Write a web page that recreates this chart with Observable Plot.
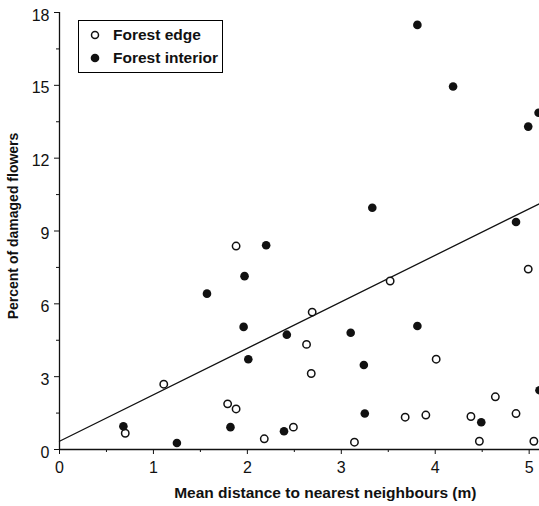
<!DOCTYPE html>
<html>
<head>
<meta charset="utf-8">
<script src="https://cdn.jsdelivr.net/npm/d3@7"></script>
<script src="https://cdn.jsdelivr.net/npm/@observablehq/plot@0.6"></script>
<style>
  html, body { margin: 0; padding: 0; background: #fff; }
  #wrap { position: relative; width: 539px; height: 506px; font-family: "Liberation Sans", Arial, sans-serif; }
  #legend { position: absolute; left: 78px; top: 20px; width: 143px; height: 51px; border: 1px solid #000; background: #fff; }
  .row { position: absolute; left: 0; height: 20px; display: flex; align-items: center; font-weight: bold; font-size: 15.5px; color: #111; }
  .row svg { margin-left: 10px; margin-right: 12px; }
</style>
</head>
<body>
<div id="wrap">
  <div id="chart"></div>
  <div id="legend">
    <div class="row" style="top:4px"><svg width="12" height="12"><circle cx="6" cy="6" r="3.5" fill="#fff" stroke="#111" stroke-width="1.5"/></svg>Forest edge</div>
    <div class="row" style="top:27px"><svg width="12" height="12"><circle cx="6" cy="6" r="4.3" fill="#111"/></svg>Forest interior</div>
  </div>
</div>
<script>
// Forest edge (open circles)
const edgeX = [0.70, 1.11, 1.79, 1.88, 1.88, 2.18, 2.49, 2.63, 2.68, 2.69, 3.14, 3.52, 3.68, 3.90, 4.01, 4.38, 4.47, 4.64, 4.86, 4.99, 5.05];
const edgeY = [0.67, 2.69, 1.88, 1.67, 8.38, 0.44, 0.92, 4.33, 3.13, 5.66, 0.30, 6.94, 1.33, 1.42, 3.72, 1.36, 0.34, 2.17, 1.48, 7.43, 0.34];
// Forest interior (filled circles)
const interiorX = [0.68, 1.25, 1.57, 1.82, 1.96, 1.97, 2.01, 2.20, 2.39, 2.42, 3.10, 3.24, 3.25, 3.33, 3.81, 3.81, 4.19, 4.49, 4.86, 4.99, 5.10, 5.11];
const interiorY = [0.96, 0.27, 6.42, 0.92, 5.05, 7.14, 3.72, 8.41, 0.75, 4.73, 4.81, 3.48, 1.48, 9.96, 5.09, 17.49, 14.95, 1.12, 9.37, 13.30, 13.87, 2.44];
// Fitted line
const lineIntercept = 0.34;
const lineSlope = 1.915;
const lineXs = [0, 5.11];
// Ticks
const xTicks = [0, 1, 2, 3, 4, 5];
const xMinor = [0.5, 1.5, 2.5, 3.5, 4.5];
const yTicks = [0, 3, 6, 9, 12, 15, 18];
const yMinor = [1.5, 4.5, 7.5, 10.5, 13.5, 16.5];
const xLabel = "Mean distance to nearest neighbours (m)";
const yLabel = "Percent of damaged flowers";

const edge = edgeX.map((x, i) => ({x, y: edgeY[i]}));
const interior = interiorX.map((x, i) => ({x, y: interiorY[i]}));
const fit = lineXs.map(x => ({x, y: lineIntercept + lineSlope * x}));

const chart = Plot.plot({
  width: 539,
  height: 506,
  marginLeft: 59,
  marginRight: 0,
  marginTop: 12,
  marginBottom: 57,
  style: {fontFamily: "Liberation Sans, Arial, sans-serif", fontSize: "16px", color: "#111", background: "#fff"},
  x: {domain: [0, 5.11]},
  y: {domain: [0, 18]},
  marks: [
    Plot.axisX(xTicks, {tickSize: 5, tickPadding: 7, fontSize: 16, label: null}),
    Plot.axisX(xMinor, {tickSize: 3, tickFormat: () => "", label: null}),
    Plot.axisY(yTicks, {tickSize: 5, tickFormat: () => "", label: null}),
    Plot.axisY(yMinor, {tickSize: 3, tickFormat: () => "", label: null}),
    Plot.text(yTicks, {y: d => d, text: d => String(d), frameAnchor: "left", textAnchor: "end", dx: -10, dy: 3, fontSize: 16, fill: "#111"}),
    Plot.ruleY([0], {stroke: "#111", strokeWidth: 1.3}),
    Plot.ruleX([0], {stroke: "#111", strokeWidth: 1.3}),
    Plot.line(fit, {x: "x", y: "y", stroke: "#111", strokeWidth: 1.3}),
    Plot.dot(edge, {x: "x", y: "y", r: 3.7, fill: "#fff", stroke: "#111", strokeWidth: 1.5}),
    Plot.dot(interior, {x: "x", y: "y", r: 4.3, fill: "#111", stroke: "none"}),
    Plot.text([yLabel], {text: d => d, frameAnchor: "left", textAnchor: "middle", rotate: -90, dx: -46, dy: -5, fontSize: 14, fontWeight: "bold", fill: "#111"}),
    Plot.text([xLabel], {text: d => d, x: [2.83], frameAnchor: "bottom", textAnchor: "middle", dy: 48, fontSize: 15.5, fontWeight: "bold", fill: "#111"})
  ]
});
document.getElementById("chart").appendChild(chart);
</script>
</body>
</html>
